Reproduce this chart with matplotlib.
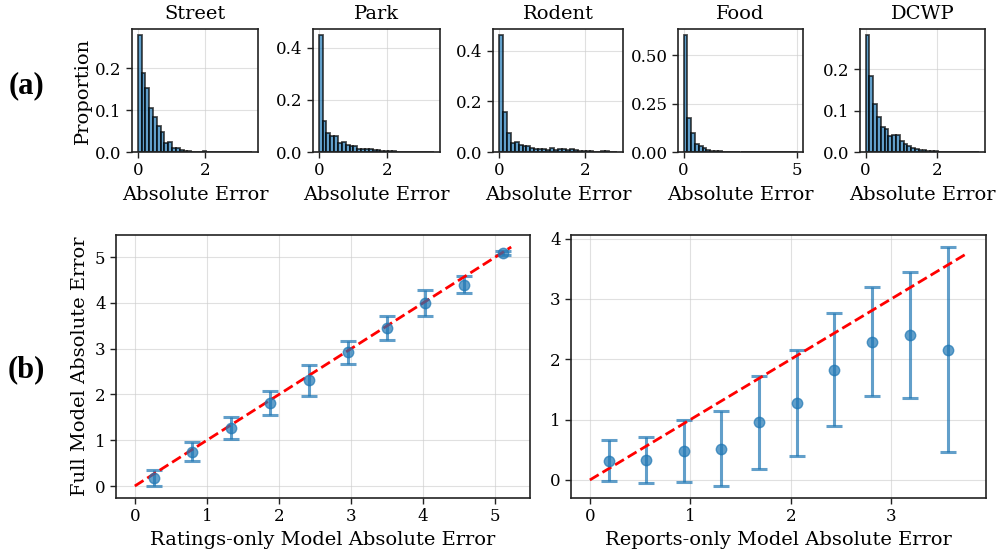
import numpy as np
import matplotlib
matplotlib.use("Agg")
import matplotlib.pyplot as plt

plt.rcParams['font.family'] = ['DejaVu Serif']

# ---------------- data ----------------
categories = ["Street", "Park", "Rodent", "Food", "DCWP"]
hist_max = [3.4, 3.38, 2.75, 5.0, 3.2]

street_props = [0.280, 0.190, 0.154, 0.106, 0.084, 0.062, 0.048, 0.022, 0.024, 0.010,
                0.010, 0.005, 0.003, 0.002, 0.001, 0.001, 0.001, 0.002, 0.001, 0.001,
                0.001, 0.001, 0.0005, 0.0005, 0.0005, 0.0005, 0.0005, 0.0005, 0.0005, 0.0005]
park_props = [0.450, 0.120, 0.075, 0.060, 0.060, 0.034, 0.040, 0.028, 0.025, 0.025,
              0.013, 0.013, 0.011, 0.011, 0.008, 0.006, 0.005, 0.004, 0.003, 0.003,
              0.002, 0.002, 0.002, 0.002, 0.001, 0.001, 0.002, 0.001, 0.001, 0.002]
rodent_props = [0.462, 0.158, 0.077, 0.037, 0.040, 0.028, 0.024, 0.022, 0.016, 0.014,
                0.014, 0.012, 0.010, 0.015, 0.010, 0.012, 0.012, 0.008, 0.011, 0.008,
                0.006, 0.005, 0.005, 0.004, 0.002, 0.002, 0.003, 0.003, 0.002, 0.001]
food_props = [0.605, 0.174, 0.099, 0.040, 0.030, 0.020, 0.013, 0.008, 0.004, 0.003,
              0.002, 0.002, 0.001, 0.001, 0.001, 0.001, 0.001, 0.001, 0.0005, 0.0005,
              0.0005, 0.0005, 0.0005, 0.0005, 0.0005, 0.0005, 0.0005, 0.0005, 0.0005, 0.0005]
dcwp_props = [0.283, 0.184, 0.115, 0.084, 0.060, 0.056, 0.038, 0.042, 0.042, 0.026,
              0.019, 0.014, 0.011, 0.008, 0.006, 0.004, 0.003, 0.002, 0.002, 0.001,
              0.001, 0.001, 0.001, 0.001, 0.0005, 0.0005, 0.0005, 0.0005, 0.0005, 0.0005]
hist_props = [street_props, park_props, rodent_props, food_props, dcwp_props]
hist_yticks = [[0.0, 0.1, 0.2], [0.0, 0.2, 0.4], [0.0, 0.2, 0.4],
               [0.0, 0.25, 0.5], [0.0, 0.1, 0.2]]
hist_ytick_labels = [["0.0", "0.1", "0.2"], ["0.0", "0.2", "0.4"], ["0.0", "0.2", "0.4"],
                     ["0.00", "0.25", "0.50"], ["0.0", "0.1", "0.2"]]
hist_xticks = [[0, 2], [0, 2], [0, 2], [0, 5], [0, 2]]

# Ratings-only comparison
ratings_x = [0.27, 0.80, 1.34, 1.88, 2.42, 2.96, 3.50, 4.03, 4.57, 5.11]
ratings_y = [0.18, 0.75, 1.27, 1.81, 2.31, 2.92, 3.45, 4.00, 4.40, 5.09]
ratings_err = [0.17, 0.21, 0.24, 0.27, 0.34, 0.25, 0.27, 0.28, 0.18, 0.05]
ratings_line_max = 5.22

# Reports-only comparison
reports_x = [0.186, 0.56, 0.935, 1.31, 1.684, 2.06, 2.43, 2.81, 3.185, 3.56]
reports_y = [0.32, 0.335, 0.48, 0.52, 0.96, 1.27, 1.83, 2.29, 2.40, 2.16]
reports_err = [0.34, 0.38, 0.51, 0.62, 0.77, 0.88, 0.94, 0.90, 1.04, 1.70]
reports_line_max = 3.755

# ---------------- figure ----------------
fig = plt.figure(figsize=(10, 5.57), dpi=100)

spine_color = "#222222"
blue = "#1f77b4"

def style_axes(ax):
    for s in ax.spines.values():
        s.set_color(spine_color)
        s.set_linewidth(1.2)
    ax.grid(True, color="#cccccc", alpha=0.6, linewidth=0.8)
    ax.set_axisbelow(True)
    ax.tick_params(labelsize=12, length=4, width=1, color=spine_color)

top_lefts = [0.132, 0.313, 0.493, 0.678, 0.860]
top_widths = [0.126, 0.127, 0.130, 0.125, 0.125]
for i, cat in enumerate(categories):
    ax = fig.add_axes([top_lefts[i], 0.727, top_widths[i], 0.221])
    props = np.array(hist_props[i])
    edges = np.linspace(0, hist_max[i], len(props) + 1)
    centers = 0.5 * (edges[:-1] + edges[1:])
    ax.hist(centers, bins=edges, weights=props, color=blue, alpha=0.7,
            edgecolor="black", linewidth=1.3)
    style_axes(ax)
    ax.set_title(cat, fontsize=14, pad=7)
    ax.set_xlabel("Absolute Error", fontsize=14, labelpad=5)
    ax.set_yticks(hist_yticks[i])
    ax.set_yticklabels(hist_ytick_labels[i])
    ax.set_xticks(hist_xticks[i])
    if i == 0:
        ax.set_ylabel("Proportion", fontsize=14, labelpad=2)

def errplot(ax, x, y, err, line_max):
    ax.errorbar(x, y, yerr=err, fmt="o", color=blue, alpha=0.7,
                markersize=7.5, elinewidth=2.2, capsize=6, capthick=2.2)
    ax.plot([0, line_max], [0, line_max], "r--", linewidth=2)
    style_axes(ax)

ax1 = fig.add_axes([0.116, 0.106, 0.414, 0.472])
errplot(ax1, ratings_x, ratings_y, ratings_err, ratings_line_max)
ax1.set_xticks([0, 1, 2, 3, 4, 5])
ax1.set_yticks([0, 1, 2, 3, 4, 5])
ax1.set_xlabel("Ratings-only Model Absolute Error", fontsize=14, labelpad=4)
ax1.set_ylabel("Full Model Absolute Error", fontsize=14, labelpad=4)

ax2 = fig.add_axes([0.571, 0.106, 0.415, 0.472])
errplot(ax2, reports_x, reports_y, reports_err, reports_line_max)
ax2.set_xticks([0, 1, 2, 3])
ax2.set_yticks([0, 1, 2, 3, 4])
ax2.set_xlabel("Reports-only Model Absolute Error", fontsize=14, labelpad=4)

fig.text(0.026, 0.847, "(a)", fontsize=22, fontweight="bold",
         family="Liberation Serif", ha="center", va="center")
fig.text(0.026, 0.337, "(b)", fontsize=22, fontweight="bold",
         family="Liberation Serif", ha="center", va="center")

fig.savefig("out.png", dpi=100)
